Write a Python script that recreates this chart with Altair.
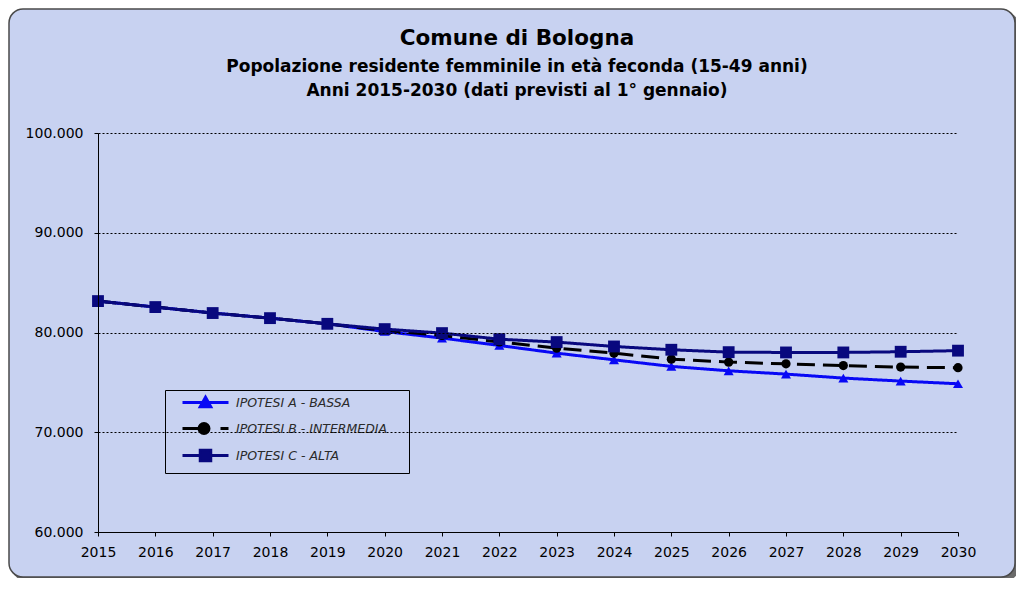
import altair as alt
import pandas as pd

# ---- data ----
years = list(range(2015, 2031))
series_names = ["IPOTESI A - BASSA", "IPOTESI B - INTERMEDIA", "IPOTESI C - ALTA"]
ipotesi_a = [83150, 82550, 81950, 81440, 80870, 80100, 79440, 78700, 77930, 77260,
             76600, 76160, 75830, 75430, 75130, 74860]
ipotesi_b = [83150, 82550, 81950, 81440, 80870, 80220, 79700, 79050, 78430, 77930,
             77330, 77030, 76860, 76690, 76530, 76470]
ipotesi_c = [83150, 82550, 81950, 81440, 80870, 80340, 79940, 79330, 79040, 78600,
             78270, 78030, 78000, 78000, 78070, 78180]
y_ticks = [60000, 70000, 80000, 90000, 100000]

title_text = "Comune di Bologna"
subtitle_lines = ["Popolazione residente femminile in età feconda (15-49 anni)",
                  "Anni 2015-2030 (dati previsti al 1° gennaio)"]

# ---- styles ----
colors = ["#0808f5", "#000000", "#08087e"]
dashes = [[1, 0], [18, 8], [1, 0]]
marker_shapes = ["triangle-up", "circle", "square"]
marker_sizes = [100, 85, 140]
legend_shapes = [
    "M-4.6,0H4.6M0,-1.05L1.05,0.85H-1.05Z",
    "M-4.6,0H0.4M3,0H4.6M-1.3,0A1,1 0 1,0 0.7,0A1,1 0 1,0 -1.3,0Z",
    "M-4.6,0H4.6M-1.05,-1.05H1.05V1.05H-1.05Z",
]
FONT = "DejaVu Sans"
BG = "#c8d2f1"
LEG_EXPR = "datum.label + '\u00a0\u00a0\u00a0\u00a0\u200b'"

rows = []
for name, vals in zip(series_names, [ipotesi_a, ipotesi_b, ipotesi_c]):
    for yr, v in zip(years, vals):
        rows.append({"anno": yr, "ipotesi": name, "popolazione": v})
df = pd.DataFrame(rows)

x_enc = alt.X(
    "anno:Q",
    scale=alt.Scale(domain=[2015, 2030], nice=False, zero=False),
    axis=alt.Axis(values=years, format="d", title=None, grid=False,
                  labelFont=FONT, labelFontSize=14, labelColor="black",
                  labelPadding=9, tickSize=4, tickColor="black",
                  domainColor="black", labelFlush=False, zindex=1),
)
y_enc = alt.Y(
    "popolazione:Q",
    scale=alt.Scale(domain=[60000, 100000], nice=False, zero=False),
    axis=alt.Axis(values=y_ticks, title=None, grid=True, gridColor="black",
                  gridDash=[2, 2], gridWidth=1,
                  labelExpr="replace(format(datum.value, ','), ',', '.')",
                  labelFont=FONT, labelFontSize=14, labelColor="black",
                  labelPadding=11, tickSize=4, tickColor="black",
                  domainColor="black", zindex=1),
)

frame_data = alt.Data(values=[{"k": 1}])
shadow = alt.Chart(frame_data).mark_rect(cornerRadius=14, fill="#6a6a6a").encode(
    x=alt.value(-86), x2=alt.value(921), y=alt.value(-121), y2=alt.value(448)
)
frame = alt.Chart(frame_data).mark_rect(
    cornerRadius=14, fill=BG, stroke="#4a4a4a", strokeWidth=1.5
).encode(
    x=alt.value(-89), x2=alt.value(917), y=alt.value(-124), y2=alt.value(444)
)

base = alt.Chart(df)
layers = [shadow, frame]
for name, col, dash, shp, sz in zip(series_names, colors, dashes, marker_shapes, marker_sizes):
    sel = base.transform_filter(alt.datum.ipotesi == name)
    layers.append(sel.mark_line(color=col, strokeWidth=3, strokeDash=dash).encode(x=x_enc, y=y_enc))
    layers.append(sel.mark_point(filled=True, color=col, shape=shp, size=sz, opacity=1).encode(x=x_enc, y=y_enc))

def leg():
    return alt.Legend(title=None, labelExpr=LEG_EXPR)

legend_layer = base.transform_filter("false").mark_point(filled=True, strokeWidth=3, opacity=1).encode(
    fill=alt.Fill("ipotesi:N", scale=alt.Scale(domain=series_names, range=colors), legend=leg()),
    stroke=alt.Stroke("ipotesi:N", scale=alt.Scale(domain=series_names, range=colors), legend=leg()),
    shape=alt.Shape("ipotesi:N", scale=alt.Scale(domain=series_names, range=legend_shapes), legend=leg()),
)
layers.append(legend_layer)

chart = alt.layer(*layers).properties(
    width=860,
    height=399,
    autosize=alt.AutoSizeParams(type="none"),
    padding={"left": 90, "top": 125, "right": 58, "bottom": 46},
    title=alt.TitleParams(
        text=title_text,
        subtitle=subtitle_lines,
        anchor="middle",
        frame="group",
        dx=-11,
        offset=-91,
        zindex=2,
        font=FONT,
        fontSize=21.5,
        fontWeight="bold",
        color="black",
        subtitleFont=FONT,
        subtitleFontSize=17,
        subtitleFontWeight="bold",
        subtitleColor="black",
        subtitleLineHeight=24,
        subtitlePadding=10,
    ),
).configure(
    background="white"
).configure_view(
    stroke=None
).configure_legend(
    orient="none",
    legendX=67,
    legendY=257,
    labelFont=FONT,
    labelFontStyle="italic",
    labelFontSize=12.5,
    labelColor="#2a2a2a",
    labelLimit=400,
    symbolSize=100,
    symbolStrokeWidth=3,
    symbolOffset=28,
    labelOffset=24,
    rowPadding=4,
    padding=6,
    strokeColor="black",
)

chart.save("out.html", embed_options={"renderer": "svg", "actions": False})
